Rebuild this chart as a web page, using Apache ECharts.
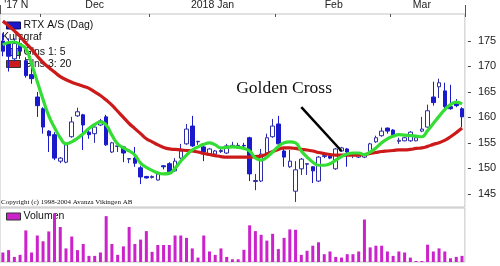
<!DOCTYPE html>
<html>
<head>
<meta charset="utf-8">
<script src="https://cdn.jsdelivr.net/npm/echarts@6.0.0/dist/echarts.min.js"></script>
<style>
html,body{margin:0;padding:0;background:#fff;}
#chart{width:500px;height:266px;}
</style>
</head>
<body>
<div id="chart"></div>
<script>
// Trading days (22 Nov 2017 - 19 Mar 2018)
const dates = [
 '2017-11-22','2017-11-23','2017-11-24','2017-11-27','2017-11-28','2017-11-29','2017-11-30',
 '2017-12-01','2017-12-04','2017-12-05','2017-12-06','2017-12-07','2017-12-08','2017-12-11','2017-12-12','2017-12-13','2017-12-14','2017-12-15','2017-12-18','2017-12-19','2017-12-20','2017-12-21','2017-12-22','2017-12-27','2017-12-28','2017-12-29',
 '2018-01-02','2018-01-03','2018-01-04','2018-01-05','2018-01-08','2018-01-09','2018-01-10','2018-01-11','2018-01-12','2018-01-15','2018-01-16','2018-01-17','2018-01-18','2018-01-19','2018-01-22','2018-01-23','2018-01-24','2018-01-25','2018-01-26','2018-01-29','2018-01-30','2018-01-31',
 '2018-02-01','2018-02-02','2018-02-05','2018-02-06','2018-02-07','2018-02-08','2018-02-09','2018-02-12','2018-02-13','2018-02-14','2018-02-15','2018-02-16','2018-02-19','2018-02-20','2018-02-21','2018-02-22','2018-02-23','2018-02-26','2018-02-27','2018-02-28',
 '2018-03-01','2018-03-02','2018-03-05','2018-03-06','2018-03-07','2018-03-08','2018-03-09','2018-03-12','2018-03-13','2018-03-14','2018-03-15','2018-03-16','2018-03-19'
];

const openPrices = [175.0,174.5,171.5,174.5,171.1,168.4,164.0,161.7,157.3,156.6,151.4,151.2,156.2,160.3,160.5,157.1,156.8,158.5,160.1,153.2,154.3,154.2,151.8,152.0,150.1,148.4,148.2,147.7,150.5,150.9,149.5,152.0,154.8,158.3,155.2,154.2,152.8,152.8,153.3,153.0,154.3,154.4,154.5,156.0,147.4,147.5,153.0,156.2,158.7,153.4,150.3,145.5,149.9,150.8,150.3,147.5,152.3,152.4,149.9,153.4,153.8,152.6,152.2,152.2,153.2,155.2,156.4,157.9,157.5,155.3,155.4,155.4,155.4,157.3,158.1,164.0,166.0,165.2,162.1,163.1,161.7];
const closePrices = [173.0,172.0,174.5,173.0,168.2,167.6,162.3,158.1,156.4,152.0,152.0,154.6,159.1,161.1,158.5,156.6,158.1,159.3,154.6,155.0,154.4,153.0,151.9,151.0,148.3,148.1,148.4,148.9,150.3,149.3,151.4,153.4,157.7,154.4,155.3,153.2,153.8,153.4,153.5,154.4,154.5,154.5,154.4,148.9,147.6,152.8,156.0,158.3,154.8,152.2,151.4,149.7,151.8,150.9,149.5,152.2,152.5,152.0,153.8,154.0,153.2,152.8,152.6,152.8,154.8,156.0,157.3,157.3,156.6,155.5,156.0,157.1,156.0,157.7,161.3,162.9,166.8,162.1,161.7,162.3,160.1];
const lowPrices = [172.0,169.0,171.0,171.5,167.8,166.6,160.1,156.8,153.2,151.6,151.0,151.0,156.0,160.1,153.6,155.8,155.0,158.3,154.4,153.0,153.2,151.2,151.0,150.3,146.9,148.0,148.0,147.6,149.8,149.1,149.3,151.8,154.6,154.2,154.6,151.4,152.6,152.6,153.0,152.8,154.0,154.0,154.0,147.5,145.7,147.3,152.8,156.0,154.6,150.3,150.1,143.4,148.7,148.7,147.1,147.3,152.0,151.8,149.7,153.2,150.3,152.0,152.0,152.0,153.0,155.0,156.2,156.8,156.4,154.8,155.3,155.2,155.3,157.1,158.0,162.3,163.8,161.8,161.5,162.0,158.1];
const highPrices = [176.5,175.5,175.5,175.5,171.8,170.3,165.0,162.0,157.5,157.1,152.2,155.0,160.1,161.9,160.7,157.9,158.5,159.7,160.5,155.2,154.5,154.4,152.0,154.2,150.5,148.5,148.6,149.0,150.6,151.2,152.0,154.8,158.7,160.3,155.4,154.4,154.0,153.6,153.8,154.8,155.2,155.0,155.0,156.2,148.9,153.8,156.8,159.7,160.3,154.2,153.6,151.4,152.0,151.0,150.4,152.4,152.8,152.6,154.0,154.2,154.0,153.0,152.8,153.0,155.0,156.4,158.0,158.0,157.7,156.0,156.2,157.3,156.2,160.1,162.5,167.0,167.6,166.8,166.4,163.6,162.0];

// moving averages
const ma5 = [174.2,174.7,174.8,174.3,173.5,170.5,167.0,163.5,160.3,158.0,156.0,154.8,155.2,155.9,156.8,157.8,158.6,159.1,158.5,156.5,154.8,154.0,153.4,152.6,151.0,150.2,149.6,149.1,148.9,149.0,150.0,151.4,152.6,153.6,154.2,154.7,155.0,154.6,154.0,154.1,154.2,154.1,153.9,153.4,152.0,151.6,152.2,153.2,154.3,155.0,155.2,155.0,153.4,152.2,151.2,150.6,150.6,150.9,151.6,152.3,152.8,153.0,153.0,152.7,153.2,154.0,155.0,155.8,156.3,156.6,156.5,156.4,156.3,156.2,157.4,158.8,160.2,161.5,162.5,163.0,162.6];
const ma20 = [178.9,178.0,177.0,175.9,174.6,173.4,172.0,170.8,169.8,168.9,168.0,167.4,166.9,166.5,166.1,165.7,165.0,164.3,163.4,162.4,161.2,160.0,158.8,157.8,156.8,155.8,155.2,154.6,154.1,153.8,153.7,153.6,153.5,153.4,153.2,152.9,152.7,152.5,152.3,152.2,152.2,152.2,152.2,152.2,152.3,152.4,152.8,153.3,153.7,154.0,154.0,153.9,153.7,153.6,153.4,153.1,152.9,152.7,152.6,152.6,152.6,152.6,152.6,152.7,152.9,153.1,153.3,153.4,153.5,153.6,153.6,153.7,153.9,154.0,154.3,154.7,155.0,155.5,156.2,157.0,157.9];

const volumes = [28,35,15,21,93,28,78,61,90,143,103,40,75,35,53,18,18,28,135,53,21,46,103,53,66,91,30,50,50,50,78,78,71,40,13,78,31,21,40,15,8,8,36,108,91,80,63,83,38,71,96,95,21,33,48,58,23,31,15,13,23,23,31,125,43,48,48,31,18,31,28,13,3,3,51,31,40,31,11,15,18];

const yTicks = [145,150,155,160,165,170,175];
const monthLabels = ["'17 N","Dec","2018 Jan","Feb","Mar"];
const monthLabelIdx = [2,16,36,58,73];
const monthStartIdx = [7,26,48,68];
const yearStartIdx = [26];

const seriesName = 'RTX A/S (Dag)';
const ma5Name = 'Glns 1: 5';
const ma20Name = 'Glns 3: 20';
const volName = 'Volumen';
const annotationText = 'Golden Cross';
const copyrightText = 'Copyright (c) 1998-2004 Avanza Vikingen AB';

const ohlc = openPrices.map((o, i) => [o, closePrices[i], lowPrices[i], highPrices[i]]);

const FONT = "'Liberation Sans', Arial, sans-serif";
const chart = echarts.init(document.getElementById('chart'), null, {renderer: 'canvas'});

const labelRich = {
  n: {fontSize: 10.5, fontFamily: FONT, color: '#222'},
  s: {fontSize: 10.5, fontFamily: FONT, color: '#222', padding: [0, 0, 0, 4]},
  j: {fontSize: 10.5, fontFamily: FONT, color: '#222', padding: [0, 0, 0, 6]},
  f: {fontSize: 10.5, fontFamily: FONT, color: '#222', padding: [0, 4, 0, 0]}
};

chart.setOption({
  animation: false,
  backgroundColor: '#fff',
  textStyle: {fontFamily: FONT},
  title: [
    {text: 'Kursgraf', left: 2, top: 32, padding: 0, z: 1,
     textStyle: {fontSize: 10.5, fontWeight: 'normal', color: '#111', fontFamily: FONT}},
    {text: copyrightText, left: 1, top: 199, padding: 0, z: 1,
     textStyle: {fontSize: 7, fontWeight: 'normal', color: '#111', fontFamily: "'Liberation Serif', 'Times New Roman', serif"}}
  ],
  legend: [
    {left: 1, top: 15, orient: 'vertical', selectedMode: false, z: 1,
     itemWidth: 14, itemHeight: 7, itemGap: 0,
     textStyle: {fontSize: 10.5, color: '#111', fontFamily: FONT, padding: [0,0,0,-2]},
     data: [{name: seriesName, icon: 'rect', itemStyle: {color: '#1a1acc', borderColor: '#0a0a66', borderWidth: 1}}]},
    {left: 1, top: 41, orient: 'vertical', selectedMode: false, z: 1,
     itemWidth: 14, itemHeight: 7, itemGap: 0,
     textStyle: {fontSize: 10.5, color: '#111', fontFamily: FONT, lineHeight: 12, padding: [0,0,0,-2]},
     data: [
       {name: ma5Name, icon: 'rect', itemStyle: {color: '#33dd33', borderColor: '#333', borderWidth: 1}},
       {name: ma20Name, icon: 'rect', itemStyle: {color: '#cc1a1a', borderColor: '#333', borderWidth: 1}}
     ]},
    {left: 1, top: 206, orient: 'vertical', selectedMode: false, z: 1,
     itemWidth: 14, itemHeight: 7,
     textStyle: {fontSize: 10.5, color: '#111', fontFamily: FONT, padding: [0,0,0,-2]},
     data: [{name: volName, icon: 'rect', itemStyle: {color: '#cc22cc', borderColor: '#333', borderWidth: 1}}]}
  ],
  grid: [
    {left: -0.875, right: 35.125, top: 14, height: 193, show: true, borderColor: '#c4c4c4', borderWidth: 1},
    {left: -0.875, right: 35.125, top: 208, height: 54, show: true, borderColor: '#c4c4c4', borderWidth: 1}
  ],
  xAxis: [
    {type: 'category', gridIndex: 0, data: dates, position: 'top', boundaryGap: true,
     axisLine: {show: false},
     axisTick: {show: true, inside: true, length: 3, lineStyle: {color: '#555'},
       interval: (i) => monthStartIdx.includes(i)},
     axisLabel: {show: true, margin: 3, fontSize: 10.5, color: '#222', fontFamily: FONT,
       interval: (i) => monthLabelIdx.includes(i),
       formatter: (v, i) => {
         const k = monthLabelIdx.indexOf(i);
         if (k < 0) return '';
         const t = monthLabels[k];
         if (k === 0) return '{s|' + t + '}';
         if (k === 2) return '{j|' + t + '}';
         if (k === 3) return '{f|' + t + '}';
         return '{n|' + t + '}';
       },
       rich: labelRich},
     splitLine: {show: false}},
    {type: 'category', gridIndex: 1, data: dates, show: false, boundaryGap: true},
    {type: 'category', gridIndex: 0, data: dates, position: 'top', boundaryGap: true,
     axisLine: {show: false},
     axisTick: {show: true, inside: false, length: 9, lineStyle: {color: '#555'},
       interval: (i) => yearStartIdx.includes(i)},
     axisLabel: {show: false}, splitLine: {show: false}}
  ],
  yAxis: [
    {type: 'value', gridIndex: 0, position: 'right', min: 142.4, max: 180.3, offset: 3,
     axisLine: {show: false},
     axisTick: {show: true, length: 3, lineStyle: {color: '#444'}, customValues: yTicks},
     axisLabel: {show: true, margin: 10, fontSize: 11, color: '#222', fontFamily: FONT, customValues: yTicks},
     splitLine: {show: false}},
    {type: 'value', gridIndex: 1, min: 0, max: 159, show: false, splitLine: {show: false}}
  ],
  series: [
    {name: seriesName, type: 'candlestick', xAxisIndex: 0, yAxisIndex: 0, z: 2,
     data: ohlc, barWidth: 4,
     itemStyle: {color: '#ffffff', color0: '#1a1acc', borderColor: '#2d2da8', borderColor0: '#1a1acc', borderWidth: 1},
     markPoint: {silent: true, symbol: 'circle', symbolSize: 0,
       label: {show: true, position: 'inside', formatter: annotationText, color: '#111',
         fontSize: 17.5, fontFamily: "'Liberation Serif', 'Times New Roman', serif"},
       data: [{coord: [49, 165.6]}]},
     markLine: {silent: true, symbol: ['none', 'arrow'], symbolSize: [0, 9],
       label: {show: false},
       lineStyle: {color: '#000', width: 2.5, type: 'solid'},
       data: [[{coord: [52, 162.0]}, {coord: [59, 153.4]}]]}
    },
    {name: ma20Name, type: 'line', xAxisIndex: 0, yAxisIndex: 0, z: 3,
     data: ma20, smooth: true, symbol: 'none',
     lineStyle: {color: '#cc1a1a', width: 3.2}, itemStyle: {color: '#cc1a1a'}},
    {name: ma5Name, type: 'line', xAxisIndex: 0, yAxisIndex: 0, z: 4,
     data: ma5, smooth: true, symbol: 'none',
     lineStyle: {color: '#33dd33', width: 3.2}, itemStyle: {color: '#33dd33'}},
    {name: volName, type: 'bar', xAxisIndex: 1, yAxisIndex: 1, z: 2,
     data: volumes, barWidth: 3,
     itemStyle: {color: '#cc22cc'}}
  ]
});
</script>
</body>
</html>
